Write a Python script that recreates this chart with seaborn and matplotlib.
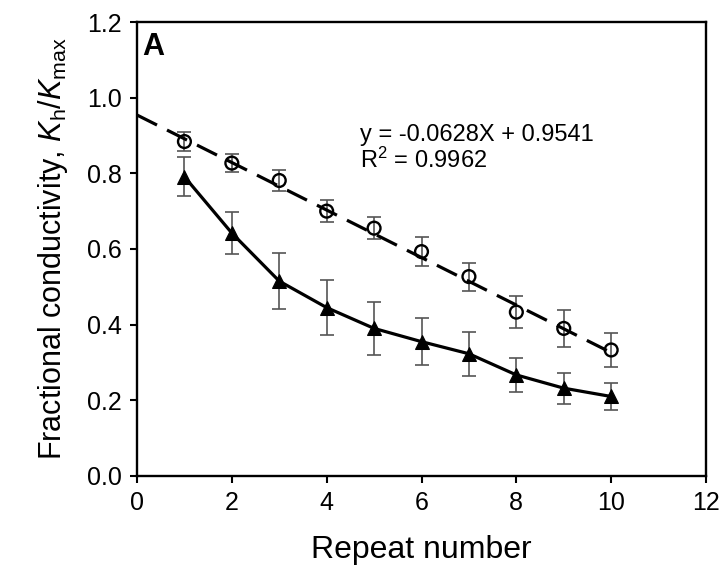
import seaborn as sns
import numpy as np
import matplotlib.pyplot as plt
import pandas as pd

# repeat number
repeats = [1, 2, 3, 4, 5, 6, 7, 8, 9, 10]
# open circles (dashed regression)
circle_mean = [0.884, 0.827, 0.781, 0.700, 0.655, 0.593, 0.527, 0.433, 0.390, 0.333]
circle_err = [0.025, 0.023, 0.027, 0.029, 0.029, 0.039, 0.037, 0.043, 0.049, 0.044]
# filled triangles (solid line)
tri_mean = [0.791, 0.642, 0.515, 0.445, 0.390, 0.355, 0.323, 0.267, 0.232, 0.210]
tri_err = [0.052, 0.056, 0.074, 0.073, 0.070, 0.063, 0.058, 0.046, 0.041, 0.036]
# fitted line
slope = -0.0628
intercept = 0.9541
fit_x = [0, 10]

sns.set_style("ticks")
plt.rcParams['font.family'] = ['Liberation Sans', 'DejaVu Sans']
plt.rcParams['mathtext.fontset'] = 'custom'
plt.rcParams['mathtext.rm'] = 'Liberation Sans'
plt.rcParams['mathtext.it'] = 'Liberation Sans:italic'
plt.rcParams['text.color'] = 'black'
plt.rcParams['axes.labelcolor'] = 'black'
plt.rcParams['xtick.color'] = 'black'
plt.rcParams['ytick.color'] = 'black'

df = pd.DataFrame({'x': repeats, 'circ': circle_mean, 'tri': tri_mean})
fit = pd.DataFrame({'x': fit_x, 'y': [slope * v + intercept for v in fit_x]})

fig = plt.figure(figsize=(7.23, 5.79), dpi=100)
ax = fig.add_axes([0.1895, 0.178, 0.787, 0.784])

# error bars first
ax.errorbar(repeats, tri_mean, yerr=tri_err, fmt='none', ecolor='#555555',
            elinewidth=1.2, capsize=5, capthick=1.2, zorder=1)
ax.errorbar(repeats, circle_mean, yerr=circle_err, fmt='none', ecolor='#555555',
            elinewidth=1.2, capsize=5, capthick=1.2, zorder=1)

sns.lineplot(data=fit, x='x', y='y', color='black', lw=2.3, ax=ax,
             dashes=False, zorder=2).lines[-1].set_dashes((7, 3.5))
sns.lineplot(data=df, x='x', y='tri', color='black', lw=2.3, marker='^',
             markersize=9.5, markeredgecolor='black', ax=ax, zorder=3)
ax.scatter(df['x'], df['circ'], s=85, facecolors='none', edgecolors='black',
           linewidths=1.7, zorder=4)

ax.set_xlim(0, 12)
ax.set_ylim(0, 1.2)
ax.set_xticks(np.arange(0, 13, 2))
ax.set_yticks(np.arange(0, 1.21, 0.2))
ax.set_yticklabels([f"{v:.1f}" for v in np.arange(0, 1.21, 0.2)])
ax.tick_params(axis='both', labelsize=18, length=5, width=1.5, direction='out',
               pad=6, top=False, right=False, colors='black')
for s in ax.spines.values():
    s.set_linewidth(1.7)
    s.set_color('black')

ax.set_xlabel("Repeat number", fontsize=23, labelpad=14)
ax.set_ylabel(r"Fractional conductivity, $K_{\mathrm{h}}/K_{\mathrm{max}}$",
              fontsize=22, labelpad=12)

ax.text(0.01, 0.978, "A", transform=ax.transAxes, fontsize=22,
        fontweight='bold', va='top', ha='left')
ax.text(4.7, 0.8, "y = -0.0628X + 0.9541\nR$^2$ = 0.9962", fontsize=17,
        va='bottom', ha='left', linespacing=1.12)

fig.savefig('out.png', dpi=100)
plt.close()
